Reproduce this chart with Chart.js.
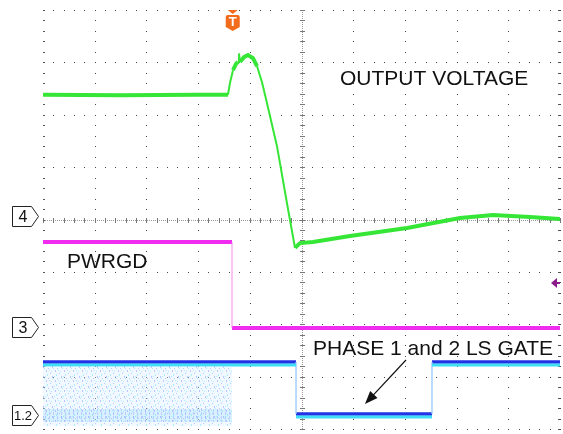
<!DOCTYPE html>
<html>
<head>
<meta charset="utf-8">
<script src="https://cdn.jsdelivr.net/npm/chart.js@4.4.1/dist/chart.umd.min.js"></script>
<style>
  html, body { margin: 0; padding: 0; background: #fff; }
  #scope { display: block; }
</style>
</head>
<body>
<canvas id="scope" width="563" height="434"></canvas>
<script>
// Values are in screen divisions: time 0..10 div, amplitude -4..+4 div

// CH4 - output voltage (x div, y div)
const outputVoltage = [
  [0, 2.38], [1.5, 2.37], [3.0, 2.38], [3.578, 2.38], [3.617, 2.61], [3.675, 2.85],
  [3.733, 2.97], [3.772, 3.01], [3.791, 3.17], [3.81, 3.01], [3.888, 3.10],
  [3.965, 3.14], [4.062, 3.08], [4.139, 2.93], [4.236, 2.62], [4.333, 2.22],
  [4.526, 1.40], [4.739, 0.20], [4.874, -0.54], [4.971, -0.45], [5.222, -0.43],
  [5.938, -0.315], [7.041, -0.162], [8.066, 0.029], [8.704, 0.086], [9.42, 0.048], [10, 0.01]
];

// CH3 - PWRGD
const pwrgdHigh = [[0, -0.43], [3.656, -0.43]];
const pwrgdEdge = [[3.656, -0.43], [3.656, -2.072]];
const pwrgdLow = [[3.656, -2.072], [10, -2.072]];

// CH1/CH2 - phase 1 and 2 low side gate
const gateLevels = [-2.721, -3.714];          // high, low
const gateEdges = [0, 3.656, 4.894, 7.524, 10]; // switching end, edges, end
const switchingBand = [-2.8, -3.943];           // top, bottom of switching noise
const switchingFloor = [-3.62, -3.86];

// channel ground markers and trigger
const channelMarkers = [['4', 0.06], ['3', -2.053], ['1.2', -3.733]];
const triggerX = 3.67;
const rightMarkerY = -1.212;

// annotations [text, x div, baseline y div]
const annotations = [
  ['OUTPUT VOLTAGE', 5.745, 2.568],
  ['PWRGD', 0.464, -0.926],
  ['PHASE 1 and 2 LS GATE', 5.222, -2.587]
];
const pointer = { from: [7.021, -2.683], to: [6.228, -3.523] };

const pts = (arr) => arr.map(([x, y]) => ({ x, y }));

// gate trace: high until first edge, low, high again
const [hi, lo] = gateLevels;
const gateHigh1 = [[gateEdges[0], hi], [gateEdges[2], hi]];
const gateLow = [[gateEdges[2], lo], [gateEdges[3], lo]];
const gateHigh2 = [[gateEdges[3], hi], [gateEdges[4], hi]];
const shift = -0.055;
const sh = (arr) => arr.map(([x, y]) => [x, y + shift]);

// sparse dotted pattern for the switching noise area
function noisePattern() {
  const c = document.createElement('canvas');
  c.width = 9; c.height = 10;
  const g = c.getContext('2d');
  g.fillStyle = 'rgba(215,235,255,0.35)';
  g.fillRect(0, 0, 9, 10);
  g.fillStyle = 'rgba(120,140,255,0.45)';
  [[1, 0], [1, 1], [5, 3], [7, 6], [7, 7], [3, 8]].forEach(([a, b]) => g.fillRect(a, b, 1, 1));
  g.fillStyle = 'rgba(100,225,255,0.5)';
  [[4, 0], [2, 4], [2, 5], [6, 1], [8, 8], [0, 6]].forEach(([a, b]) => g.fillRect(a, b, 1, 1));
  return g.createPattern(c, 'repeat');
}

function floorPattern() {
  const c = document.createElement('canvas');
  c.width = 4; c.height = 4;
  const g = c.getContext('2d');
  g.fillStyle = 'rgba(150,220,255,0.35)';
  g.fillRect(0, 0, 4, 4);
  g.fillStyle = 'rgba(110,130,255,0.45)';
  g.fillRect(1, 0, 1, 3);
  return g.createPattern(c, 'repeat');
}

const gridPlugin = {
  id: 'scopeGrid',
  beforeDatasetsDraw(chart) {
    const { ctx, scales: { x, y } } = chart;
    ctx.save();
    ctx.fillStyle = '#444';
    for (let i = 0; i <= 10; i++) {
      const px = Math.round(x.getPixelForValue(i));
      for (let j = 0; j <= 40; j++) {
        ctx.fillRect(px, Math.round(y.getPixelForValue(-4 + j * 0.2)), 1, 1);
      }
    }
    for (let i = 0; i <= 8; i++) {
      const py = Math.round(y.getPixelForValue(-4 + i));
      for (let j = 0; j <= 50; j++) {
        ctx.fillRect(Math.round(x.getPixelForValue(j * 0.2)), py, 1, 1);
      }
    }
    // centre lines, dense with minor ticks
    const cx = Math.round(x.getPixelForValue(5));
    const cy = Math.round(y.getPixelForValue(0));
    ctx.fillStyle = '#999';
    for (let px = x.left; px < x.right; px += 2) ctx.fillRect(px, cy, 1, 1);
    for (let py = y.top; py < y.bottom; py += 2) ctx.fillRect(cx, py, 1, 1);
    ctx.fillStyle = '#777';
    for (let j = 0; j <= 50; j++) {
      ctx.fillRect(Math.round(x.getPixelForValue(j * 0.2)), cy - 2, 1, 5);
    }
    for (let j = 0; j <= 40; j++) {
      ctx.fillRect(cx - 2, Math.round(y.getPixelForValue(-4 + j * 0.2)), 5, 1);
    }
    // edge ticks
    ctx.fillStyle = '#555';
    for (let j = 0; j <= 40; j++) {
      const py = Math.round(y.getPixelForValue(-4 + j * 0.2));
      ctx.fillRect(x.left, py, 2, 1);
      ctx.fillRect(x.right - 2, py, 2, 1);
    }
    ctx.restore();
  },
  afterDatasetsDraw(chart) {
    const { ctx, scales: { x, y } } = chart;
    ctx.save();
    // text
    ctx.fillStyle = '#111';
    ctx.font = '21px "Liberation Sans", Arial, sans-serif';
    ctx.textBaseline = 'alphabetic';
    annotations.forEach(([t, ax, ay]) => {
      ctx.fillText(t, x.getPixelForValue(ax), y.getPixelForValue(ay));
    });
    // pointer arrow
    const x0 = x.getPixelForValue(pointer.from[0]), y0 = y.getPixelForValue(pointer.from[1]);
    const x1 = x.getPixelForValue(pointer.to[0]), y1 = y.getPixelForValue(pointer.to[1]);
    const ang = Math.atan2(y1 - y0, x1 - x0);
    ctx.strokeStyle = '#111';
    ctx.lineWidth = 1.2;
    ctx.beginPath(); ctx.moveTo(x0, y0);
    ctx.lineTo(x1 - 8 * Math.cos(ang), y1 - 8 * Math.sin(ang)); ctx.stroke();
    ctx.beginPath();
    ctx.moveTo(x1, y1);
    ctx.lineTo(x1 - 13 * Math.cos(ang) + 5 * Math.sin(ang), y1 - 13 * Math.sin(ang) - 5 * Math.cos(ang));
    ctx.lineTo(x1 - 13 * Math.cos(ang) - 5 * Math.sin(ang), y1 - 13 * Math.sin(ang) + 5 * Math.cos(ang));
    ctx.closePath(); ctx.fill();

    // channel markers on the left
    channelMarkers.forEach(([label, lvl]) => {
      const cy = Math.round(y.getPixelForValue(lvl)) + 0.5;
      ctx.beginPath();
      ctx.moveTo(12.5, cy - 10); ctx.lineTo(31.5, cy - 10); ctx.lineTo(38.5, cy);
      ctx.lineTo(31.5, cy + 10); ctx.lineTo(12.5, cy + 10); ctx.closePath();
      ctx.fillStyle = '#fff'; ctx.fill();
      ctx.strokeStyle = '#222'; ctx.lineWidth = 1; ctx.stroke();
      ctx.fillStyle = '#111';
      ctx.font = (label.length > 1 ? '13px' : '16px') + ' "Liberation Sans", Arial, sans-serif';
      ctx.textAlign = 'center'; ctx.textBaseline = 'middle';
      ctx.fillText(label, 23, cy + 1);
    });

    // right side purple marker
    const ry = y.getPixelForValue(rightMarkerY);
    ctx.fillStyle = '#8a1c8a';
    ctx.beginPath();
    ctx.moveTo(x.right - 9, ry); ctx.lineTo(x.right - 3, ry - 5); ctx.lineTo(x.right - 3, ry + 5);
    ctx.closePath(); ctx.fill();
    ctx.fillRect(x.right - 4, ry - 1, 4, 2);

    // trigger marker
    const tx = x.getPixelForValue(triggerX);
    ctx.fillStyle = '#f26c1c';
    ctx.beginPath();
    ctx.moveTo(tx - 5, y.top); ctx.lineTo(tx + 5, y.top); ctx.lineTo(tx, y.top + 4);
    ctx.closePath(); ctx.fill();
    ctx.beginPath();
    ctx.moveTo(tx - 5, y.top + 5); ctx.lineTo(tx + 5, y.top + 5);
    ctx.quadraticCurveTo(tx + 7, y.top + 5, tx + 7, y.top + 7);
    ctx.lineTo(tx + 7, y.top + 17);
    ctx.lineTo(tx, y.top + 21); ctx.lineTo(tx - 7, y.top + 17); ctx.lineTo(tx - 7, y.top + 7);
    ctx.quadraticCurveTo(tx - 7, y.top + 5, tx - 5, y.top + 5);
    ctx.closePath(); ctx.fill();
    ctx.fillStyle = '#fff';
    ctx.font = 'bold 13px "Liberation Sans", Arial, sans-serif';
    ctx.textAlign = 'center'; ctx.textBaseline = 'middle';
    ctx.fillText('T', tx, y.top + 12.5);
    ctx.restore();
  }
};

const line = (data, color, width, extra) => Object.assign({
  data: pts(data), borderColor: color, borderWidth: width, pointRadius: 0, fill: false
}, extra || {});

// thinner stroke on fast edges, like a scope trace
const steep = (c) => {
  const dx = Math.abs(c.p1.parsed.x - c.p0.parsed.x);
  const dy = Math.abs(c.p1.parsed.y - c.p0.parsed.y);
  return dy > dx * 3 ? 2 : undefined;
};

new Chart(document.getElementById('scope'), {
  type: 'line',
  data: {
    datasets: [
      // switching noise area
      line([[gateEdges[0], switchingBand[0]], [gateEdges[1], switchingBand[0]]], 'rgba(0,0,0,0)', 0,
        { fill: { value: switchingBand[1] }, backgroundColor: noisePattern() }),
      line([[gateEdges[0], switchingFloor[0]], [gateEdges[1], switchingFloor[0]]], 'rgba(0,0,0,0)', 0,
        { fill: { value: switchingFloor[1] }, backgroundColor: floorPattern() }),
      // gate: cyan under-trace then blue
      line(sh(gateHigh1), '#3fe0f5', 3),
      line(sh(gateLow), '#3fe0f5', 3),
      line(sh(gateHigh2), '#3fe0f5', 3),
      line([[gateEdges[2], hi], [gateEdges[2], lo]], 'rgba(150,200,255,0.6)', 1),
      line([[gateEdges[3], hi], [gateEdges[3], lo]], 'rgba(150,200,255,0.6)', 1),
      line(gateHigh1, '#2233e6', 3.5),
      line(gateLow, '#2233e6', 3.5),
      line(gateHigh2, '#2233e6', 3.5),
      // PWRGD
      line(pwrgdEdge, 'rgba(240,120,240,0.35)', 1),
      line(pwrgdHigh, '#f02cf0', 4),
      line(pwrgdLow, '#f02cf0', 4),
      // output voltage
      line(outputVoltage, '#36e636', 4, { segment: { borderWidth: steep } })
    ]
  },
  options: {
    responsive: false,
    animation: false,
    devicePixelRatio: 1,
    layout: { padding: { left: 43, right: 3, top: 10, bottom: 5 } },
    elements: { line: { tension: 0 } },
    scales: {
      x: { type: 'linear', min: 0, max: 10, display: false },
      y: { type: 'linear', min: -4, max: 4, display: false }
    },
    plugins: { legend: { display: false }, tooltip: { enabled: false } }
  },
  plugins: [gridPlugin]
});
</script>
</body>
</html>
